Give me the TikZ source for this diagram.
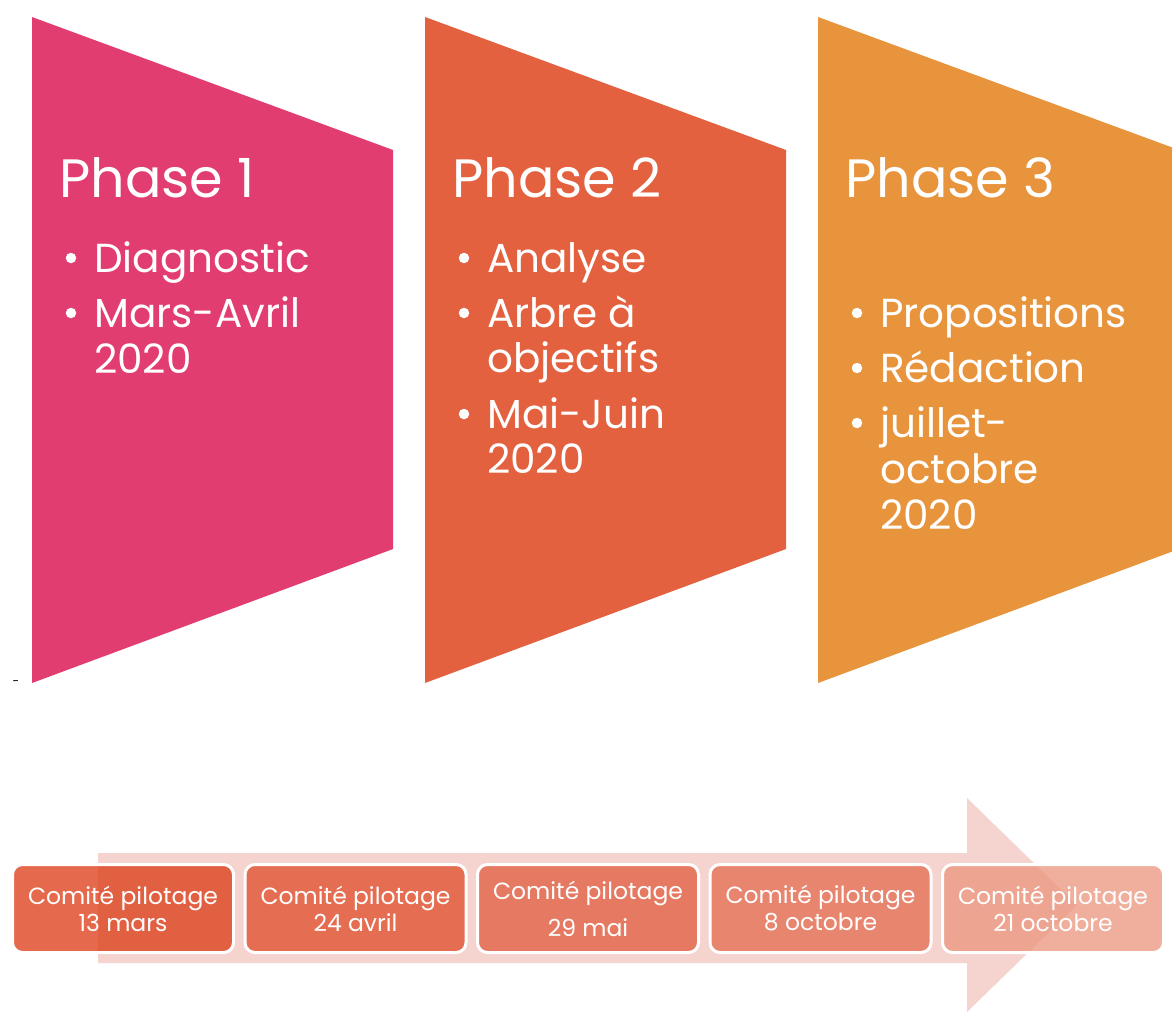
\documentclass[tikz,border=0pt]{standalone}
\usepackage{fontspec}
\setmainfont{Poppins}
\usepackage{tikz}
\usetikzlibrary{positioning}

\definecolor{fase1}{RGB}{226,61,112}
\definecolor{fase2}{RGB}{227,97,62}
\definecolor{fase3}{RGB}{232,148,61}
\definecolor{flecha}{RGB}{245,211,207}
\definecolor{cpa}{RGB}{222,68,31}
\definecolor{cpb}{RGB}{225,85,51}
\definecolor{cpc}{RGB}{227,99,70}
\definecolor{cpd}{RGB}{229,114,88}
\definecolor{cpe}{RGB}{236,154,131}

\begin{document}
\begin{tikzpicture}[x=1pt, y=-1pt]
    % Definición de estilos para textos, viñetas y bloques
    \tikzstyle{titulo} = [anchor=base west, inner sep=0pt, text=white, font=\fontsize{54}{60}\selectfont]
    \tikzstyle{linea} = [anchor=base west, inner sep=0pt, text=white, font=\fontsize{40.5}{46}\selectfont]
    \tikzstyle{vineta} = [circle, fill=white, inner sep=0pt, minimum size=10.5pt]
    \tikzstyle{comite} = [draw=white, line width=3pt, rounded corners=10pt, fill opacity=0.8, text opacity=1, minimum width=221pt, minimum height=88pt, text=white, align=center, font=\fontsize{23.5}{27}\selectfont]

    \useasboundingbox (0,0) rectangle (1172,1012);
    \clip (0,0) rectangle (1172,1012);

    % Formas de las tres fases
    \foreach \i/\col in {0/fase1, 1/fase2, 2/fase3}
        \fill[\col] ({32+393*\i},17) -- ({393+393*\i},150) -- ({393+393*\i},549) -- ({32+393*\i},683) -- cycle;

    % Fase 1
    \node[titulo] (f1) at (59,197) {Phase 1};
    \node[linea] (f1a) at (94,272) {Diagnostic};
    \node[linea] (f1b) at (94,327) {Mars-Avril};
    \node[linea] (f1c) at (94,373) {2020};
    \node[vineta] (v1a) at ([xshift=-23pt, yshift=14pt]f1a.base west) {};
    \node[vineta] (v1b) at ([xshift=-23pt, yshift=14pt]f1b.base west) {};

    % Fase 2
    \node[titulo] (f2) at (452,197) {Phase 2};
    \node[linea] (f2a) at (487,272) {Analyse};
    \node[linea] (f2b) at (487,327) {Arbre à};
    \node[linea] (f2c) at (487,372) {objectifs};
    \node[linea] (f2d) at (487,428) {Mai-Juin};
    \node[linea] (f2e) at (487,473) {2020};
    \node[vineta] (v2a) at ([xshift=-23pt, yshift=14pt]f2a.base west) {};
    \node[vineta] (v2b) at ([xshift=-23pt, yshift=14pt]f2b.base west) {};
    \node[vineta] (v2d) at ([xshift=-23pt, yshift=14pt]f2d.base west) {};

    % Fase 3
    \node[titulo] (f3) at (845,197) {Phase 3};
    \node[linea] (f3a) at (880,327) {Propositions};
    \node[linea] (f3b) at (880,382) {Rédaction};
    \node[linea] (f3c) at (880,437) {juillet-};
    \node[linea] (f3d) at (880,483) {octobre};
    \node[linea] (f3e) at (880,529) {2020};
    \node[vineta] (v3a) at ([xshift=-23pt, yshift=14pt]f3a.base west) {};
    \node[vineta] (v3b) at ([xshift=-23pt, yshift=14pt]f3b.base west) {};
    \node[vineta] (v3c) at ([xshift=-23pt, yshift=14pt]f3c.base west) {};

    \node[inner sep=0pt, font=\fontsize{12}{12}\selectfont] (guion) at (16,683) {-}; % Guion suelto

    % Flecha de fondo
    \fill[flecha] (98,853) -- (967,853) -- (967,798) -- (1077,905) -- (967,1012) -- (967,963) -- (98,963) -- cycle;

    % Comités de pilotaje
    \node[comite, fill=cpa] (c1) at (123,908.5) {Comité pilotage\\13 mars};
    \node[comite, fill=cpb, right=8.5pt of c1] (c2) {Comité pilotage\\24 avril};
    \node[comite, fill=cpc, right=8.5pt of c2] (c3) {Comité pilotage\\[10pt]29 mai};
    \node[comite, fill=cpd, right=8.5pt of c3] (c4) {Comité pilotage\\8 octobre};
    \node[comite, fill=cpe, right=8.5pt of c4] (c5) {Comité pilotage\\21 octobre};

\end{tikzpicture}
\end{document}
